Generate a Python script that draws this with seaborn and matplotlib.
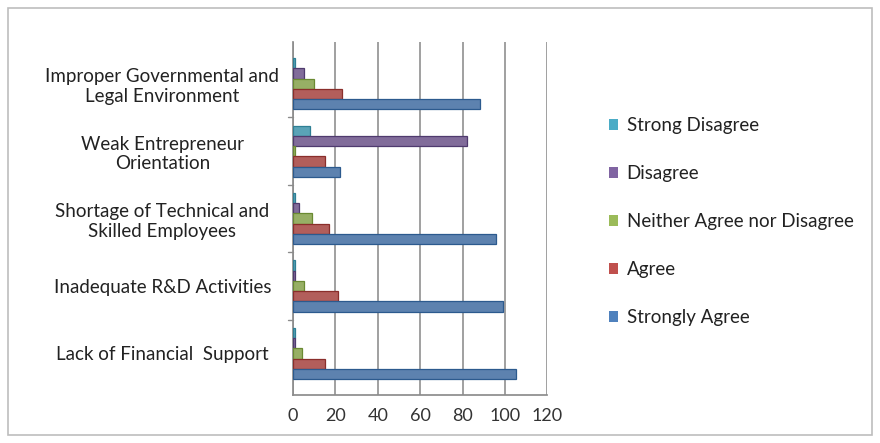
import pandas as pd
import matplotlib.pyplot as plt
import matplotlib.patches as mpatches
import seaborn as sns

# survey answers per barrier
barriers = [
    "Improper Governmental and\nLegal Environment",
    "Weak Entrepreneur\nOrientation",
    "Shortage of Technical and\nSkilled Employees",
    "Inadequate R&D Activities",
    "Lack of Financial  Support",
]
responses = ["Strong Disagree", "Disagree", "Neither Agree nor Disagree", "Agree", "Strongly Agree"]

strong_disagree = [1, 8, 1, 1, 1]
disagree = [5, 82, 3, 1, 1]
neither = [10, 1, 9, 5, 4]
agree = [23, 15, 17, 21, 15]
strongly_agree = [88, 22, 96, 99, 105]

x_ticks = [0, 20, 40, 60, 80, 100, 120]

colors = ["#4BACC6", "#8064A2", "#9BBB59", "#C0504D", "#4F81BD"]
edge_colors = ["#2E7F94", "#4F3A6E", "#6A8A32", "#8A2E2B", "#2C5A8E"]

values = [strong_disagree, disagree, neither, agree, strongly_agree]
df = pd.DataFrame(
    [(b, r, v[i]) for r, v in zip(responses, values) for i, b in enumerate(barriers)],
    columns=["barrier", "response", "count"],
)

sns.set_theme(style="white")
plt.rcParams["font.family"] = ["Lato", "DejaVu Sans"]

fig = plt.figure(figsize=(8.8, 4.43), dpi=100)
ax = fig.add_axes([0.333, 0.108, 0.289, 0.797])

sns.barplot(
    data=df, y="barrier", x="count", hue="response",
    order=barriers, hue_order=responses, palette=colors,
    orient="h", width=0.76, ax=ax, zorder=3,
)

# darker edge per series to mimic the 3D shading
for container, ec in zip(ax.containers, edge_colors):
    for bar in container:
        bar.set_edgecolor(ec)
        bar.set_linewidth(0.9)

ax.set_xlim(0, 120)
ax.set_xticks(x_ticks)
ax.set_xticklabels([str(t) for t in x_ticks], fontsize=13, color="#333333")
ax.set_xlabel("")
ax.set_ylabel("")
ax.tick_params(axis="y", length=0, pad=18, labelsize=13.5, labelcolor="#222222")
for lab in ax.get_yticklabels():
    lab.set_horizontalalignment("center")
    lab.set_x(-0.415)
    lab.set_multialignment("center")

ax.xaxis.grid(True, color="#A0A0A0", linewidth=1.4, zorder=0)
for side in ["top", "right"]:
    ax.spines[side].set_visible(False)
ax.spines["left"].set_color("#8C8C8C")
ax.spines["bottom"].set_color("#8C8C8C")

# small tick marks between categories on the y axis
for y in [0.5, 1.5, 2.5, 3.5]:
    ax.plot([-2.5, 0], [y, y], color="#8C8C8C", linewidth=1, clip_on=False)

handles = [mpatches.Patch(facecolor=c, edgecolor="none") for c in colors]
ax.legend(
    handles, responses, loc="upper left", bbox_to_anchor=(1.175, 0.835),
    frameon=False, fontsize=13.5, handlelength=0.5, handleheight=0.5,
    handletextpad=0.45, labelspacing=1.65, labelcolor="#222222",
)

# chart border
fig.patches.append(mpatches.Rectangle(
    (0.009, 0.018), 0.982, 0.964, transform=fig.transFigure,
    fill=False, edgecolor="#BDBDBD", linewidth=1.2,
))

fig.savefig("out.png", dpi=100)
